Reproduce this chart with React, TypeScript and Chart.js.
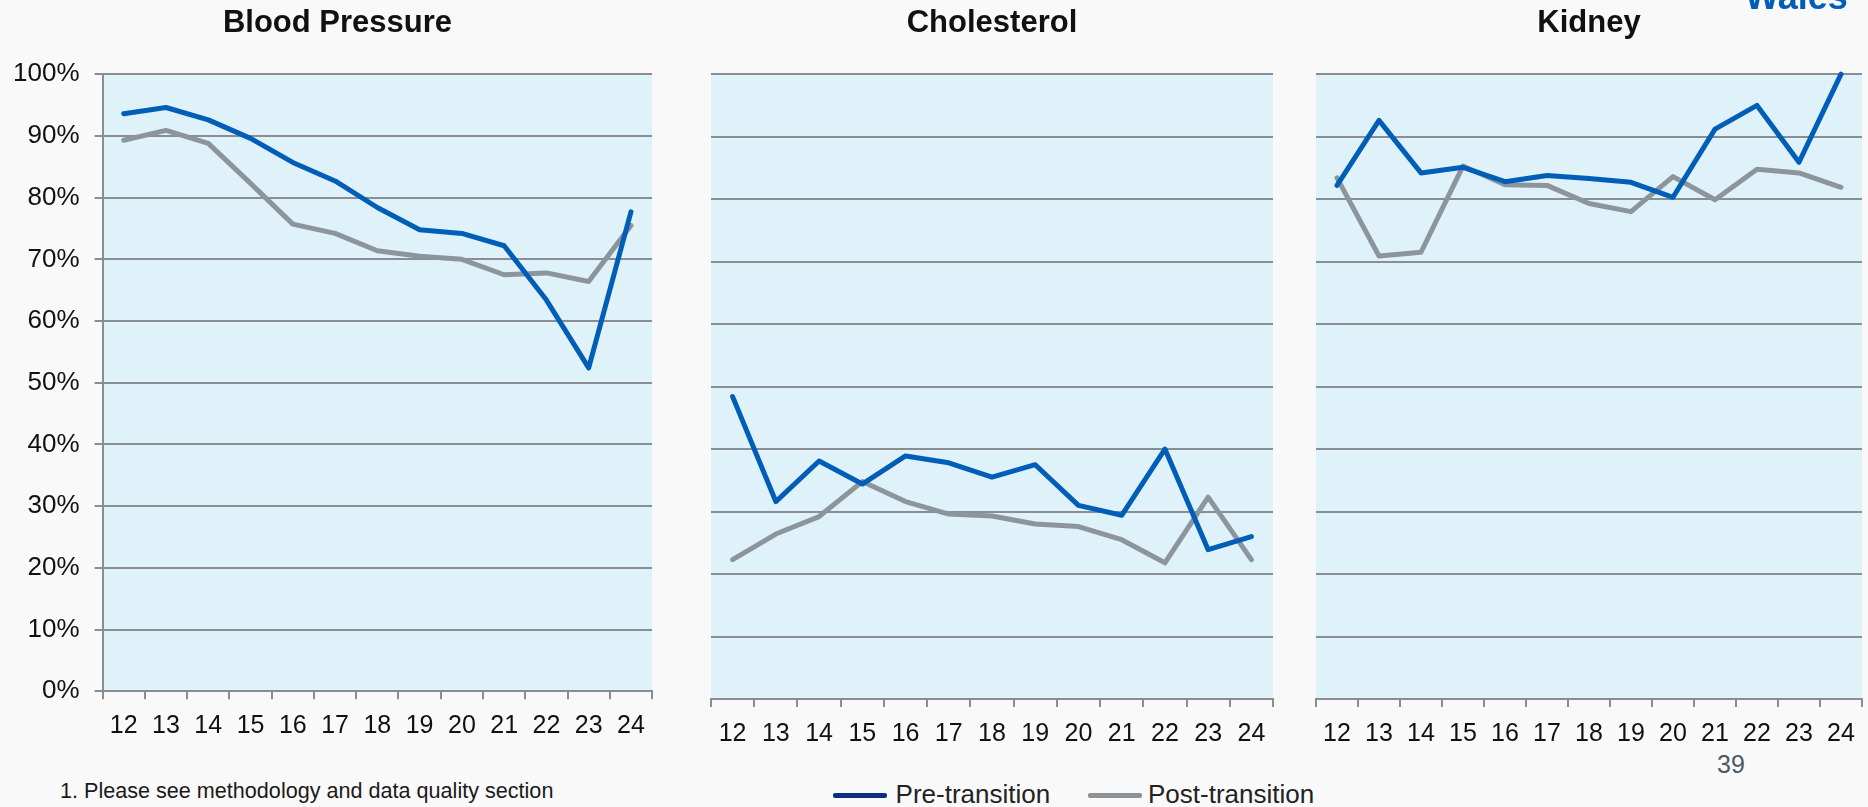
import React, { useEffect, useRef } from "react";
import { Chart, registerables } from "chart.js";

Chart.register(...registerables);

// ---- data ----
const categories = ["12", "13", "14", "15", "16", "17", "18", "19", "20", "21", "22", "23", "24"];
const seriesNames = ["Pre-transition", "Post-transition"];
const panelTitles = ["Blood Pressure", "Cholesterol", "Kidney"];

const bpPre = [93.6, 94.6, 92.6, 89.6, 85.7, 82.7, 78.4, 74.8, 74.2, 72.2, 63.4, 52.4, 77.7];
const bpPost = [89.3, 90.9, 88.8, 82.3, 75.7, 74.2, 71.4, 70.5, 70.0, 67.5, 67.8, 66.4, 75.5];

const cholPre = [48.4, 31.6, 38.1, 34.4, 38.9, 37.8, 35.5, 37.5, 31.0, 29.4, 40.0, 23.9, 26.0];
const cholPost = [22.3, 26.4, 29.2, 34.8, 31.6, 29.6, 29.3, 28.0, 27.6, 25.5, 21.8, 32.3, 22.3];

const kidPre = [82.2, 92.6, 84.2, 85.1, 82.8, 83.8, 83.3, 82.7, 80.3, 91.2, 95.0, 85.9, 100.0];
const kidPost = [83.4, 70.9, 71.5, 85.3, 82.3, 82.2, 79.3, 78.0, 83.6, 79.9, 84.8, 84.2, 81.9];

const yMin = 0;
const yMax = 100;
const yStep = 10;

const footnote = "1. Please see methodology and data quality section";
const pageNumber = "39";
const brandText = "Wales";

// ---- styles ----
const BLUE = "#005EB8";
const GREY = "#8C959C";
const GRID = "#8A8E92";
const PLOT_BG = "#DFF1F9";
const PAGE_BG = "#F9F9F9";
const FONT = "'Liberation Sans', Arial, Helvetica, sans-serif";

const plotBgPlugin = {
  id: "plotBg",
  beforeDraw(chart: any) {
    const { ctx, chartArea } = chart;
    if (!chartArea) return;
    ctx.save();
    ctx.fillStyle = PLOT_BG;
    ctx.fillRect(chartArea.left, chartArea.top, chartArea.right - chartArea.left, chartArea.bottom - chartArea.top);
    ctx.restore();
  },
};

type PanelProps = {
  title: string;
  pre: number[];
  post: number[];
  showY: boolean;
  left: number;
  width: number;
  height: number;
  yAxisWidth: number;
  rightSpacer: number;
  xAxisHeight: number;
};

function Panel(p: PanelProps) {
  const ref = useRef<HTMLCanvasElement | null>(null);
  useEffect(() => {
    if (!ref.current) return;
    const lineStyle = {
      borderWidth: 5,
      pointRadius: 0,
      tension: 0,
      borderJoinStyle: "round",
      borderCapStyle: "round",
      clip: 10,
    };
    const chart = new Chart(ref.current, {
      type: "line",
      data: {
        labels: categories,
        datasets: [
          { label: seriesNames[0], data: p.pre, borderColor: BLUE, backgroundColor: BLUE, ...lineStyle },
          { label: seriesNames[1], data: p.post, borderColor: GREY, backgroundColor: GREY, ...lineStyle },
        ],
      },
      options: {
        animation: false,
        responsive: false,
        maintainAspectRatio: false,
        events: [],
        layout: { padding: 0 },
        plugins: {
          legend: { display: false },
          tooltip: { enabled: false },
          title: {
            display: true,
            text: p.title,
            color: "#111111",
            font: { family: FONT, size: 31, weight: "bold", lineHeight: 1.2 },
            padding: { top: 4.7, bottom: 32.3 },
          },
        },
        scales: {
          x: {
            type: "category",
            offset: true,
            grid: {
              offset: true,
              drawOnChartArea: false,
              drawTicks: true,
              tickLength: 8,
              color: GRID,
              lineWidth: 2,
            },
            border: { display: true, color: GRID, width: 2 },
            ticks: {
              color: "#111111",
              font: { family: FONT, size: 25 },
              padding: 12,
              maxRotation: 0,
              autoSkip: false,
            },
            afterFit(scale: any) {
              scale.height = p.xAxisHeight;
            },
          },
          y: {
            min: yMin,
            max: yMax,
            grid: {
              color: GRID,
              lineWidth: 2,
              drawTicks: p.showY,
              tickLength: 8,
            },
            border: { display: p.showY, color: GRID, width: 2 },
            ticks: {
              display: p.showY,
              stepSize: yStep,
              color: "#111111",
              font: { family: FONT, size: 26 },
              padding: 15,
              callback: (v: any) => `${v}%`,
            },
            afterFit(scale: any) {
              scale.width = p.yAxisWidth;
            },
          },
          spacer: {
            type: "linear",
            position: "right",
            display: true,
            grid: { display: false, drawTicks: false },
            border: { display: false },
            ticks: { display: false },
            afterFit(scale: any) {
              scale.width = p.rightSpacer;
            },
          },
        },
      },
      plugins: [plotBgPlugin],
    } as any);
    return () => chart.destroy();
  }, []);
  return (
    <canvas
      ref={ref}
      width={p.width}
      height={p.height}
      style={{ position: "absolute", left: p.left, top: 0, width: p.width, height: p.height }}
    />
  );
}

const textBase: React.CSSProperties = {
  position: "absolute",
  fontFamily: FONT,
  whiteSpace: "nowrap",
  lineHeight: 1,
};

export default function App() {
  return (
    <div
      style={{
        position: "fixed",
        left: 0,
        top: 0,
        width: 1868,
        height: 807,
        background: PAGE_BG,
        overflow: "hidden",
      }}
    >
      <Panel
        title={panelTitles[0]}
        pre={bpPre}
        post={bpPost}
        showY={true}
        left={0}
        width={675.2}
        height={742}
        yAxisWidth={102.6}
        rightSpacer={22.9}
        xAxisHeight={50.7}
      />
      <Panel
        title={panelTitles[1]}
        pre={cholPre}
        post={cholPost}
        showY={false}
        left={703}
        width={578}
        height={750}
        yAxisWidth={8}
        rightSpacer={8}
        xAxisHeight={51}
      />
      <Panel
        title={panelTitles[2]}
        pre={kidPre}
        post={kidPost}
        showY={false}
        left={1308}
        width={562}
        height={750}
        yAxisWidth={8}
        rightSpacer={8}
        xAxisHeight={51}
      />

      {/* brand text, partly cut off at the top */}
      <div style={{ ...textBase, left: 1745, top: -21.2, fontSize: 36, fontWeight: "bold", color: BLUE }}>
        {brandText}
      </div>

      {/* page number */}
      <div style={{ ...textBase, left: 1717, top: 751.8, fontSize: 25, color: "#4D5966" }}>{pageNumber}</div>

      {/* footnote */}
      <div style={{ ...textBase, left: 60, top: 780, fontSize: 21.6, color: "#1A1A1A" }}>{footnote}</div>

      {/* legend */}
      <div style={{ position: "absolute", left: 833, top: 793.2, width: 54, height: 5, background: "#0A2F85", borderRadius: 2 }} />
      <div style={{ ...textBase, left: 895.6, top: 781.3, fontSize: 26, color: "#222222" }}>{seriesNames[0]}</div>
      <div style={{ position: "absolute", left: 1088, top: 793.2, width: 54, height: 5, background: "#8C9296", borderRadius: 2 }} />
      <div style={{ ...textBase, left: 1148, top: 781.3, fontSize: 26, color: "#222222" }}>{seriesNames[1]}</div>
    </div>
  );
}
